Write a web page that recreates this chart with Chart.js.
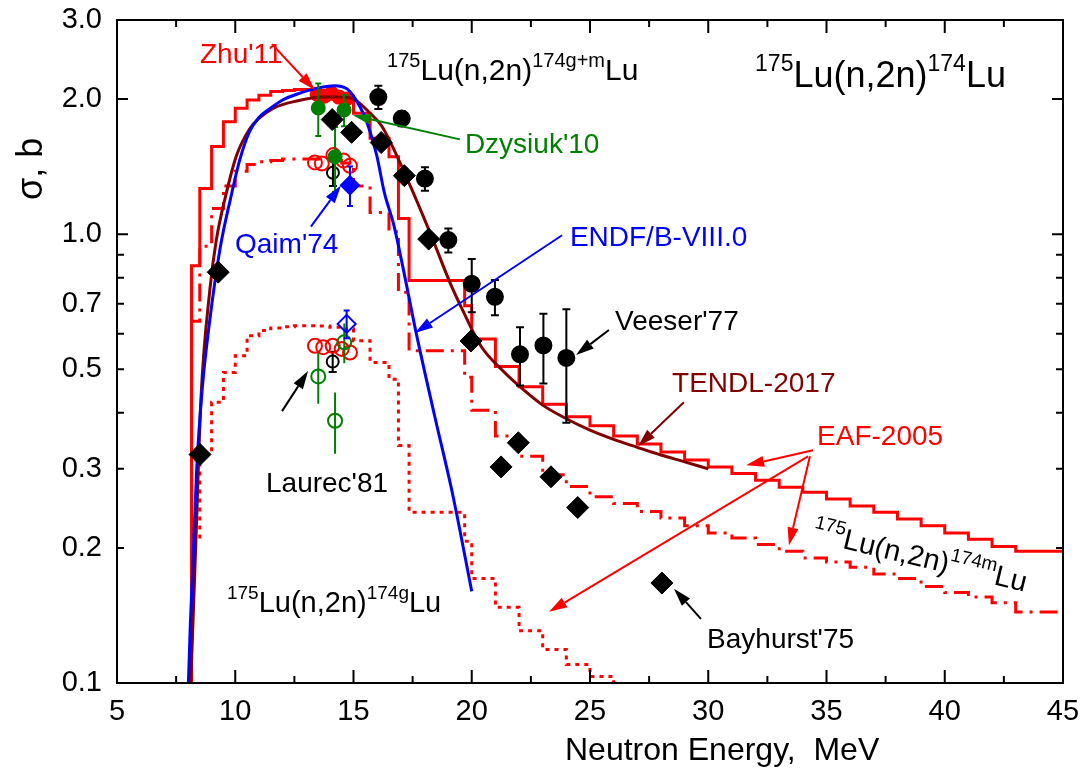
<!DOCTYPE html>
<html>
<head>
<meta charset="utf-8">
<title>175Lu(n,2n)174Lu cross section</title>
<script src="https://cdn.jsdelivr.net/npm/chart.js@4.4.1/dist/chart.umd.min.js"></script>
<style>
  html, body { margin: 0; padding: 0; background: #fff; }
  #wrap { width: 1086px; height: 774px; }
</style>
</head>
<body>
<div id="wrap"><canvas id="luChart" width="1086" height="774"></canvas></div>
<script>
// ---- axes ----
const xTickValues = [5, 10, 15, 20, 25, 30, 35, 40, 45];
const xTickMarks = [7.5, 10, 12.5, 15, 17.5, 20, 22.5, 25, 27.5, 30, 32.5, 35, 37.5, 40, 42.5];
const yTickValues = [0.1, 0.2, 0.3, 0.5, 0.7, 1, 2, 3];
const yTickLabels = ['0.1', '0.2', '0.3', '0.5', '0.7', '1.0', '2.0', '3.0'];
const yTickMarks = [0.2, 0.3, 0.4, 0.5, 0.6, 0.7, 0.8, 0.9, 1, 2];
const yLongTicks = [1, 2];

// ---- EAF-2005 group structure (MeV) and group cross sections (b) ----
const eafEdges = [8.15, 8.5, 9.0, 9.5, 10.0, 10.5, 11.0, 11.5, 12.0, 12.5, 13.0, 13.5, 14.0, 14.5, 15.0,
  15.7, 16.5, 16.9, 17.35, 19.7, 20, 21, 22, 23, 24, 25, 26, 27, 28, 29, 30, 31, 32, 33, 34, 35,
  36, 37, 38, 39, 40, 41, 42, 43, 44, 45];
const eafTotal = [0.397, 0.85, 1.264, 1.567, 1.78, 1.907, 1.99, 2.04, 2.08, 2.09, 2.10, 2.10, 2.09, 2.07,
  2.03, 1.86, 1.635, 1.488, 1.083, 0.788, 0.693, 0.584, 0.507, 0.457, 0.418, 0.392, 0.374, 0.355,
  0.341, 0.327, 0.314, 0.303, 0.293, 0.283, 0.273, 0.266, 0.257, 0.248, 0.240, 0.232, 0.224, 0.216,
  0.209, 0.2015, 0.1965];
const eafMeta = [0.30, 0.64, 0.94, 1.14, 1.28, 1.38, 1.43, 1.45, 1.46, 1.47, 1.47, 1.47, 1.47, 1.46,
  1.44, 1.28, 1.117, 1.013, 0.742, 0.55, 0.48, 0.405, 0.355, 0.32, 0.291, 0.274, 0.26, 0.251,
  0.241, 0.233, 0.224, 0.216, 0.2105, 0.2034, 0.1965, 0.19, 0.186, 0.181, 0.175, 0.171, 0.164,
  0.159, 0.1555, 0.151, 0.144];
const eafGround = [0.05, 0.209, 0.328, 0.422, 0.492, 0.536, 0.594, 0.61, 0.618, 0.622, 0.625, 0.625,
  0.624, 0.62, 0.615, 0.579, 0.518, 0.475, 0.338, 0.24, 0.207, 0.171, 0.1475, 0.1307, 0.1188,
  0.1099, 0.1034, 0.098, 0.092];
const histFloor = 0.05;

// ---- evaluations ----
const endfE = [8.02, 8.1, 8.2, 8.37, 8.6, 8.93, 9.36, 9.8, 10.2, 10.6, 11.0, 11.5, 12.0, 12.6, 13.4,
  14.2, 14.7, 15.0, 15.3, 15.56, 15.98, 16.3, 16.7, 17.2, 17.6, 18.4, 19.2, 20.0];
const endfXs = [0.1, 0.135, 0.18, 0.30, 0.45, 0.647, 0.93, 1.2, 1.47, 1.69, 1.82, 1.91, 1.99, 2.05, 2.11,
  2.14, 2.11, 2.03, 1.91, 1.78, 1.50, 1.24, 1.05, 0.79, 0.62, 0.40, 0.262, 0.16];
const tendlE = [8.12, 8.34, 8.55, 8.93, 9.2, 9.6, 10.06, 10.62, 11.0, 11.6, 12.6, 13.7, 14.57, 15.13,
  15.7, 16.2, 17.32, 18.23, 19.08, 19.6, 20.4, 21.25, 22.0, 23.0, 24.0, 25.0, 26.0, 27.0, 28.0, 29.0, 30.0];
const tendlXs = [0.1, 0.21, 0.43, 0.755, 0.97, 1.22, 1.5, 1.72, 1.81, 1.907, 1.98, 2.02, 2.02, 1.98,
  1.86, 1.74, 1.31, 1.01, 0.78, 0.68, 0.562, 0.50, 0.459, 0.416, 0.388, 0.366, 0.349, 0.335, 0.322, 0.311, 0.30];

// ---- measurements ----
const bayhurstE = [8.51, 9.28, 14.1, 14.92, 16.17, 17.15, 18.18, 19.97, 21.24, 21.97, 23.35, 24.48, 28.04];
const bayhurstXs = [0.323, 0.823, 1.80, 1.686, 1.60, 1.35, 0.975, 0.578, 0.303, 0.343, 0.288, 0.246, 0.167];

const veeserE = [16.05, 17.04, 18.02, 19.01, 20.0, 20.98, 22.04, 23.03, 24.0];
const veeserXs = [2.02, 1.81, 1.33, 0.97, 0.775, 0.725, 0.54, 0.565, 0.53];
const veeserErr = [0.12, 0.07, 0.08, 0.06, 0.105, 0.065, 0.08, 0.10, 0.15];

const zhuE = [13.46, 13.77, 14.07, 14.38, 14.69];
const zhuXs = [2.05, 2.03, 2.06, 2.02, 2.0];
const zhuMetaE = [13.37, 13.66, 14.15, 14.57, 14.85];
const zhuMetaXs = [1.445, 1.437, 1.50, 1.46, 1.42];
const zhuGndE = [13.37, 13.72, 14.12, 14.5, 14.85];
const zhuGndXs = [0.564, 0.56, 0.564, 0.555, 0.545];

const dzysiukE = [13.51, 14.6, 14.22];
const dzysiukXs = [1.91, 1.89, 1.488];
const dzysiukErr = [0.255, 0.15, 0.245];
const dzysiukGndE = [13.51, 14.22, 14.61];
const dzysiukGndXs = [0.482, 0.384, 0.574];
const dzysiukGndErr = [0.063, 0.06, 0.058];

const qaimMetaE = [14.85];
const qaimMetaXs = [1.285];
const qaimMetaErr = [0.13];
const qaimGndE = [14.71];
const qaimGndXs = [0.631];
const qaimGndErr = [0.045];

const laurecE = [14.13, 14.12];
const laurecXs = [1.37, 0.52];
const laurecErr = [0.09, 0.027];

// ---- styling ----
const FONT = '"Liberation Sans", Arial, Helvetica, sans-serif';
const RED = '#ff0000', BLUE = '#0000ff', GREEN = '#008000', MAROON = '#800000', BLACK = '#000000';
const CLEAR = 'rgba(0,0,0,0)';

Chart.defaults.font.family = FONT;
Chart.defaults.color = BLACK;

function pairs(xs, ys) {
  return xs.map((x, i) => ({ x: x, y: ys[i] }));
}

// histogram polyline: vertical rise from below the axis, then one flat step per group
function steps(edges, values) {
  const pts = [{ x: edges[0], y: histFloor }];
  values.forEach((v, i) => pts.push({ x: edges[i], y: v }));
  pts.push({ x: edges[values.length], y: values[values.length - 1] });
  return pts;
}

// annotation layout, given in axis units (MeV, b)
const reaction = (a, b) => [['175', 1], ['Lu(n,2n)', 0], [a, 1], ['Lu', 0]];
const notes = [
  { parts: [["Zhu'11", 0]], at: [8.51, 2.40], color: RED, size: 28 },
  { parts: [["Dzysiuk'10", 0]], at: [19.71, 1.513], color: GREEN, size: 28 },
  { parts: [["Qaim'74", 0]], at: [9.99, 0.909], color: BLUE, size: 28 },
  { parts: [['ENDF/B-VIII.0', 0]], at: [24.15, 0.9426], color: BLUE, size: 28 },
  { parts: [["Veeser'77", 0]], at: [26.06, 0.6117], color: BLACK, size: 28 },
  { parts: [['TENDL-2017', 0]], at: [28.47, 0.4446], color: MAROON, size: 28 },
  { parts: [['EAF-2005', 0]], at: [34.6, 0.3394], color: RED, size: 28 },
  { parts: [["Bayhurst'75", 0]], at: [29.95, 0.1197], color: BLACK, size: 28 },
  { parts: [["Laurec'81", 0]], at: [11.3, 0.2658], color: BLACK, size: 28 },
  { parts: reaction('174g'), at: [9.65, 0.1441], color: BLACK, size: 29, sup: 19 },
  { parts: reaction('174g+m'), at: [16.42, 2.203], color: BLACK, size: 30, sup: 20 },
  { parts: reaction('174'), at: [31.98, 2.126], color: BLACK, size: 36, sup: 23 },
  { parts: reaction('174m'), at: [34.34, 0.2077], color: BLACK, size: 29, sup: 19, angle: 13.5 }
];
const arrows = [
  { from: [11.55, 2.65], to: [13.37, 2.093], color: RED },
  { from: [19.5, 1.626], to: [14.98, 1.84], color: GREEN },
  { from: [13.2, 1.039], to: [14.47, 1.283], color: BLUE },
  { from: [23.82, 0.9945], to: [17.6, 0.6024], color: BLUE },
  { from: [25.8, 0.6117], to: [24.41, 0.538], color: BLACK },
  { from: [28.97, 0.4223], to: [27.03, 0.3368], color: MAROON },
  { from: [34.43, 0.33], to: [31.6, 0.3054], color: RED },
  { from: [34.3, 0.3199], to: [33.41, 0.2024], color: RED },
  { from: [34.22, 0.3199], to: [23.27, 0.1441], color: RED },
  { from: [29.69, 0.139], to: [28.55, 0.1622], color: BLACK },
  { from: [11.98, 0.4033], to: [13.08, 0.4955], color: BLACK }
];

// vertical error bars, drawn just under each data set's markers
const errorBars = {
  id: 'errorBars',
  beforeDatasetDraw(chart, args) {
    const ds = chart.data.datasets[args.index];
    if (!ds.errors) return;
    const { ctx, scales: { x, y } } = chart;
    const cap = ds.capHalf === undefined ? 4 : ds.capHalf;
    ctx.save();
    ctx.strokeStyle = ds.pointBorderColor;
    ctx.lineWidth = 2;
    ctx.beginPath();
    ds.data.forEach((p, i) => {
      const px = x.getPixelForValue(p.x);
      const top = y.getPixelForValue(p.y + ds.errors[i]);
      const bot = y.getPixelForValue(p.y - ds.errors[i]);
      ctx.moveTo(px, top); ctx.lineTo(px, bot);
      ctx.moveTo(px - cap, top); ctx.lineTo(px + cap, top);
      ctx.moveTo(px - cap, bot); ctx.lineTo(px + cap, bot);
    });
    ctx.stroke();
    ctx.restore();
  }
};

function drawArrow(ctx, a, b, color) {
  const ang = Math.atan2(b[1] - a[1], b[0] - a[0]);
  const len = 18, half = 5.5;
  const bx = b[0] - len * Math.cos(ang), by = b[1] - len * Math.sin(ang);
  ctx.strokeStyle = color;
  ctx.fillStyle = color;
  ctx.lineWidth = 2;
  ctx.beginPath();
  ctx.moveTo(a[0], a[1]);
  ctx.lineTo(bx, by);
  ctx.stroke();
  ctx.beginPath();
  ctx.moveTo(b[0], b[1]);
  ctx.lineTo(bx + half * Math.sin(ang), by - half * Math.cos(ang));
  ctx.lineTo(bx - half * Math.sin(ang), by + half * Math.cos(ang));
  ctx.closePath();
  ctx.fill();
}

function drawRich(ctx, note, px, py) {
  const size = note.size, sup = note.sup || size;
  ctx.save();
  ctx.translate(px, py);
  if (note.angle) ctx.rotate(note.angle * Math.PI / 180);
  ctx.fillStyle = note.color;
  ctx.textAlign = 'left';
  ctx.textBaseline = 'alphabetic';
  let cx = 0;
  note.parts.forEach(([t, isSup]) => {
    ctx.font = (isSup ? sup : size) + 'px ' + FONT;
    ctx.fillText(t, cx, isSup ? -size * 0.45 : 0);
    cx += ctx.measureText(t).width;
  });
  ctx.restore();
}

// frame with inward ticks on all four sides, axis titles and annotations
const framePlugin = {
  id: 'frame',
  afterDatasetsDraw(chart) {
    const { ctx, chartArea: a, scales: { x, y } } = chart;
    ctx.save();
    ctx.strokeStyle = BLACK;
    ctx.lineWidth = 2;
    ctx.beginPath();
    xTickMarks.forEach(v => {
      const px = x.getPixelForValue(v);
      const len = v % 5 === 0 ? 13 : 7;
      ctx.moveTo(px, a.bottom); ctx.lineTo(px, a.bottom - len);
      ctx.moveTo(px, a.top); ctx.lineTo(px, a.top + len);
    });
    yTickMarks.forEach(v => {
      const py = y.getPixelForValue(v);
      const len = yLongTicks.includes(v) ? 11 : 7;
      ctx.moveTo(a.left, py); ctx.lineTo(a.left + len, py);
      ctx.moveTo(a.right, py); ctx.lineTo(a.right - len, py);
    });
    ctx.stroke();
    ctx.strokeRect(a.left, a.top, a.right - a.left, a.bottom - a.top);

    // axis titles
    ctx.fillStyle = BLACK;
    ctx.textAlign = 'left';
    ctx.textBaseline = 'alphabetic';
    ctx.font = '32px ' + FONT;
    ctx.fillText('Neutron Energy,  MeV', 565, 760);
    ctx.save();
    ctx.translate(42, 200);
    ctx.rotate(-Math.PI / 2);
    ctx.font = '36px ' + FONT;
    ctx.fillText('\u03C3, b', 0, 0);
    ctx.restore();

    const pix = p => [x.getPixelForValue(p[0]), y.getPixelForValue(p[1])];
    arrows.forEach(ar => drawArrow(ctx, pix(ar.from), pix(ar.to), ar.color));
    notes.forEach(n => {
      const [px, py] = pix(n.at);
      drawRich(ctx, n, px, py);
    });
    ctx.restore();
  }
};

const curve = { showLine: true, pointRadius: 0, pointHoverRadius: 0, borderWidth: 3, fill: false };
const marks = { showLine: false, pointBorderWidth: 2, pointHoverRadius: 0, order: 1 };

new Chart(document.getElementById('luChart'), {
  type: 'line',
  data: {
    datasets: [
      Object.assign({}, marks, { label: "Bayhurst'75", data: pairs(bayhurstE, bayhurstXs),
        pointStyle: 'rectRot', pointRadius: 11, pointBorderWidth: 1,
        pointBackgroundColor: BLACK, pointBorderColor: BLACK, order: 0 }),
      Object.assign({}, marks, { label: "Veeser'77", data: pairs(veeserE, veeserXs), errors: veeserErr,
        pointStyle: 'circle', pointRadius: 8, pointBackgroundColor: BLACK, pointBorderColor: BLACK }),
      Object.assign({}, marks, { label: "Qaim'74 m", data: pairs(qaimMetaE, qaimMetaXs), errors: qaimMetaErr,
        capHalf: 3, pointStyle: 'rectRot', pointRadius: 9, pointBackgroundColor: BLUE, pointBorderColor: BLUE }),
      Object.assign({}, marks, { label: "Qaim'74 g", data: pairs(qaimGndE, qaimGndXs), errors: qaimGndErr,
        capHalf: 3, pointStyle: 'rectRot', pointRadius: 9, pointBackgroundColor: CLEAR, pointBorderColor: BLUE }),
      Object.assign({}, marks, { label: "Dzysiuk'10", data: pairs(dzysiukE, dzysiukXs), errors: dzysiukErr,
        capHalf: 3, pointStyle: 'circle', pointRadius: 6.5, pointBackgroundColor: GREEN, pointBorderColor: GREEN }),
      Object.assign({}, marks, { label: "Dzysiuk'10 g", data: pairs(dzysiukGndE, dzysiukGndXs), errors: dzysiukGndErr,
        capHalf: 0, pointStyle: 'circle', pointRadius: 7, pointBackgroundColor: CLEAR, pointBorderColor: GREEN }),
      Object.assign({}, marks, { label: "Zhu'11 m", data: pairs(zhuMetaE, zhuMetaXs),
        pointStyle: 'circle', pointRadius: 7, pointBackgroundColor: CLEAR, pointBorderColor: RED, order: 2 }),
      Object.assign({}, marks, { label: "Zhu'11 g", data: pairs(zhuGndE, zhuGndXs),
        pointStyle: 'circle', pointRadius: 7, pointBackgroundColor: CLEAR, pointBorderColor: RED, order: 2 }),
      Object.assign({}, marks, { label: "Laurec'81", data: pairs(laurecE, laurecXs), errors: laurecErr,
        pointStyle: 'circle', pointRadius: 6, pointBackgroundColor: CLEAR, pointBorderColor: BLACK, order: 3 }),
      Object.assign({}, curve, { label: 'ENDF/B-VIII.0', data: pairs(endfE, endfXs), borderColor: BLUE,
        cubicInterpolationMode: 'monotone', order: 4 }),
      Object.assign({}, curve, { label: 'TENDL-2017', data: pairs(tendlE, tendlXs), borderColor: MAROON,
        cubicInterpolationMode: 'monotone', order: 4 }),
      Object.assign({}, marks, { label: "Zhu'11", data: pairs(zhuE, zhuXs),
        pointStyle: 'circle', pointRadius: 6.5, pointBackgroundColor: RED, pointBorderColor: RED, order: 5 }),
      Object.assign({}, curve, { label: 'EAF-2005 174g+m', data: steps(eafEdges, eafTotal), borderColor: RED,
        stepped: 'after', order: 6 }),
      Object.assign({}, curve, { label: 'EAF-2005 174m', data: steps(eafEdges, eafMeta), borderColor: RED,
        borderDash: [18, 7, 3, 7], stepped: 'after', order: 6 }),
      Object.assign({}, curve, { label: 'EAF-2005 174g', data: steps(eafEdges, eafGround), borderColor: RED,
        borderDash: [4, 5], stepped: 'after', order: 6 })
    ]
  },
  options: {
    responsive: false,
    animation: false,
    events: [],
    layout: { padding: { top: 20, right: 23, left: 0, bottom: 0 } },
    plugins: { legend: { display: false }, tooltip: { enabled: false } },
    scales: {
      x: {
        type: 'linear', min: 5, max: 45,
        afterBuildTicks: s => { s.ticks = xTickValues.map(v => ({ value: v })); },
        afterFit: s => { s.height = 91; s.paddingLeft = 0; s.paddingRight = 0; },
        grid: { display: false, drawTicks: false },
        border: { display: false },
        ticks: { font: { size: 29, lineHeight: 1.2 }, color: BLACK, padding: 12, maxRotation: 0,
          callback: (v, i) => String(xTickValues[i]) }
      },
      y: {
        type: 'logarithmic', min: 0.1, max: 3,
        afterBuildTicks: s => { s.ticks = yTickValues.map(v => ({ value: v })); },
        afterFit: s => { s.width = 117; s.paddingTop = 0; s.paddingBottom = 0; },
        grid: { display: false, drawTicks: false },
        border: { display: false },
        ticks: { font: { size: 29 }, color: BLACK, padding: 15,
          callback: (v, i) => yTickLabels[i] }
      }
    }
  },
  plugins: [errorBars, framePlugin]
});
</script>
</body>
</html>
